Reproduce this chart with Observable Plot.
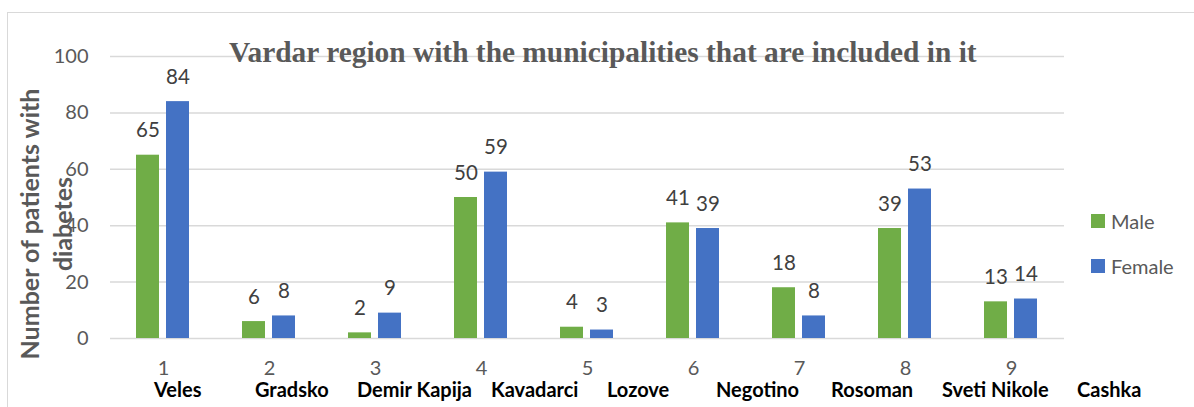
<!DOCTYPE html>
<html>
<head>
<meta charset="utf-8">
<script src="https://cdn.jsdelivr.net/npm/d3@7"></script>
<script src="https://cdn.jsdelivr.net/npm/@observablehq/plot@0.6"></script>
<style>
  html, body { margin: 0; padding: 0; background: #fff; }
  #wrap { position: relative; width: 1194px; height: 407px; overflow: hidden; }
  #frame { position: absolute; left: 7px; top: 12px; width: 1300px; height: 500px;
           border-left: 1.5px solid #d9d9d9; border-top: 1.5px solid #d9d9d9; }
  #chart { position: absolute; left: 0; top: 0; }
  #title { position: absolute; left: 229px; top: 34px; font-family: "Liberation Serif", serif;
           font-weight: bold; font-size: 29.4px; color: #595959; white-space: nowrap; line-height: 36px; }
  #ytitle { position: absolute; left: 46px; top: 224px; transform: translate(-50%, -50%) rotate(-90deg);
            font-family: Lato, sans-serif; font-weight: bold; font-size: 25px; color: #595959;
            text-align: center; line-height: 33px; white-space: nowrap; }
  .name { position: absolute; top: 380px; font-family: Lato, sans-serif; font-weight: bold;
          font-size: 20px; color: #000; white-space: nowrap; line-height: 18px; }
  .leg { position: absolute; left: 1091px; font-family: Lato, sans-serif; font-size: 20px; color: #595959; }
  .leg span.sw { position: absolute; left: 0; top: 0; width: 14px; height: 14px; }
  .leg span.tx { position: absolute; left: 20px; top: -7px; line-height: 28px; white-space: nowrap; }
</style>
</head>
<body>
<div id="wrap">
  <div id="frame"></div>
  <div id="chart"></div>
  <div id="title"></div>
  <div id="ytitle"></div>
</div>
<script>
const categories = ["1", "2", "3", "4", "5", "6", "7", "8", "9"];
const municipalities = ["Veles", "Gradsko", "Demir Kapija", "Kavadarci", "Lozove", "Negotino", "Rosoman", "Sveti Nikole", "Cashka"];
const series = ["Male", "Female"];
const male = [65, 6, 2, 50, 4, 41, 18, 39, 13];
const female = [84, 8, 9, 59, 3, 39, 8, 53, 14];
const yTicks = [0, 20, 40, 60, 80, 100];
const colors = ["#70AD47", "#4472C4"];
const titleText = "Vardar region with the municipalities that are included in it";
const yTitleLines = ["Number of patients with", "diabetes"];

// layout only (left edges of municipality labels, px)
const nameLeft = [154, 255, 357, 491, 607, 716, 831, 942, 1077];

const data = [];
categories.forEach((c, i) => {
  data.push({cat: c, sex: "Male", value: male[i]});
  data.push({cat: c, sex: "Female", value: female[i]});
});

const chart = Plot.plot({
  width: 1194,
  height: 407,
  marginLeft: 108,
  marginRight: 129,
  marginTop: 56,
  marginBottom: 69,
  style: {fontFamily: "Lato, sans-serif", background: "transparent", overflow: "visible"},
  fx: {domain: categories, paddingInner: 0, paddingOuter: 0, axis: "bottom", tickSize: 0, tickPadding: 22, label: null, fontSize: 20},
  x: {domain: series, axis: null, paddingInner: 0.23, paddingOuter: 0.87},
  y: {domain: [0, 100], ticks: yTicks, tickSize: 0, tickPadding: 22, label: null, grid: false},
  color: {domain: series, range: colors},
  marks: [
    Plot.ruleY(yTicks, {stroke: "#d9d9d9", strokeWidth: 1.5}),
    Plot.barY(data, {fx: "cat", x: "sex", y: "value", fill: "sex"}),
    Plot.text(data, {fx: "cat", x: "sex", y: "value", text: d => String(d.value),
      lineAnchor: "bottom", dy: -18, fontSize: 20.5, fill: "#404040"})
  ]
});

d3.select(chart).selectAll("g[aria-label$='tick label']").attr("fill", "#595959").attr("font-size", 20);

document.getElementById("chart").appendChild(chart);
document.getElementById("title").textContent = titleText;
document.getElementById("ytitle").innerHTML = yTitleLines.join("<br>");

const wrap = document.getElementById("wrap");
municipalities.forEach((m, i) => {
  const s = document.createElement("div");
  s.className = "name";
  s.style.left = nameLeft[i] + "px";
  s.textContent = m;
  wrap.appendChild(s);
});
series.forEach((s, i) => {
  const g = document.createElement("div");
  g.className = "leg";
  g.style.top = (214 + i * 45) + "px";
  g.innerHTML = `<span class="sw" style="background:${colors[i]}"></span><span class="tx">${s}</span>`;
  wrap.appendChild(g);
});
</script>
</body>
</html>
